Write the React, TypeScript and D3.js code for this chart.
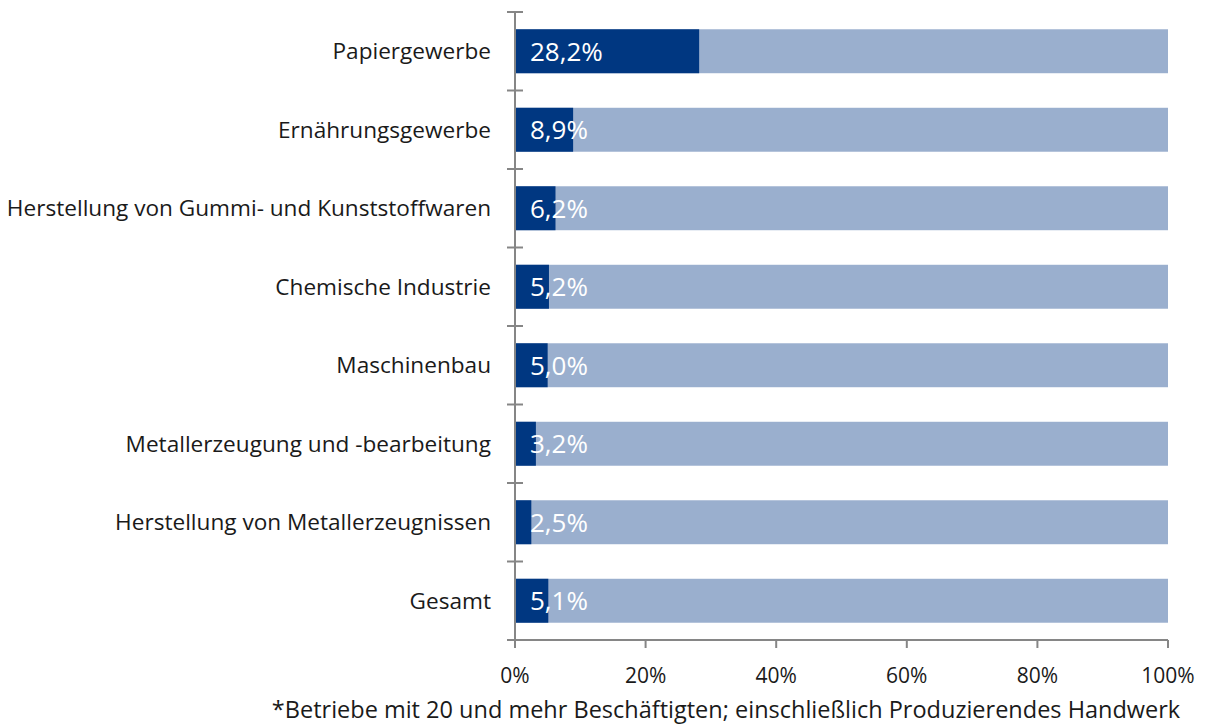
import React from "react";
import * as d3 from "d3";

const categories = [
  "Papiergewerbe",
  "Ernährungsgewerbe",
  "Herstellung von Gummi- und Kunststoffwaren",
  "Chemische Industrie",
  "Maschinenbau",
  "Metallerzeugung und -bearbeitung",
  "Herstellung von Metallerzeugnissen",
  "Gesamt",
];
const shareValues = [28.2, 8.9, 6.2, 5.2, 5.0, 3.2, 2.5, 5.1];
const valueLabels = ["28,2%", "8,9%", "6,2%", "5,2%", "5,0%", "3,2%", "2,5%", "5,1%"];
const xTicks = [0, 20, 40, 60, 80, 100];
const footnote = "*Betriebe mit 20 und mehr Beschäftigten; einschließlich Produzierendes Handwerk";

const W = 1211;
const H = 727;
const left = 515;
const right = 1168;
const top = 12;
const bottom = 640;
const FONT = "'Open Sans', 'Noto Sans', sans-serif";
const DARK = "#003781";
const LIGHT = "#9aafce";
const AXIS = "#868686";

export default function App() {
  const x = d3.scaleLinear().domain([0, 100]).range([left, right]);
  const y = d3.scaleBand<string>().domain(categories).range([top, bottom]).paddingInner(0.44).paddingOuter(0.22);
  const bounds = d3.range(categories.length + 1).map((i) => top + (i * (bottom - top)) / categories.length);
  return (
    <svg width={W} height={H} style={{ position: "absolute", left: 0, top: 0 }} fontFamily={FONT}>
      {categories.map((c, i) => (
        <g key={c}>
          <rect x={x(0)} y={y(c)} width={x(100) - x(0)} height={y.bandwidth()} fill={LIGHT} />
          <rect x={x(0)} y={y(c)} width={x(shareValues[i]) - x(0)} height={y.bandwidth()} fill={DARK} />
          <text x={x(0) + 15} y={(y(c) as number) + y.bandwidth() / 2} dy="0.36em" fill="#fff" fontSize={26} fontWeight={500}>
            {valueLabels[i]}
          </text>
          <text x={left - 24} y={(y(c) as number) + y.bandwidth() / 2} dy="0.36em" textAnchor="end" fill="#1a1a1a" fontSize={22.6}>
            {c}
          </text>
        </g>
      ))}
      <line x1={left} x2={left} y1={top} y2={bottom} stroke={AXIS} strokeWidth={2} />
      {bounds.map((b, i) => (
        <line key={i} x1={left - 8} x2={left + 8} y1={b} y2={b} stroke={AXIS} strokeWidth={2} />
      ))}
      <line x1={left} x2={right} y1={bottom} y2={bottom} stroke={AXIS} strokeWidth={2} />
      {xTicks.map((t) => (
        <g key={t}>
          <line x1={x(t)} x2={x(t)} y1={bottom} y2={bottom + 8} stroke={AXIS} strokeWidth={2} />
          <text x={x(t)} y={675} dy="0.36em" textAnchor="middle" fill="#1a1a1a" fontSize={21}>
            {t}%
          </text>
        </g>
      ))}
      <text x={(262 + 1190) / 2} y={718} textAnchor="middle" fill="#1a1a1a" fontSize={23.5}>
        {footnote}
      </text>
    </svg>
  );
}
